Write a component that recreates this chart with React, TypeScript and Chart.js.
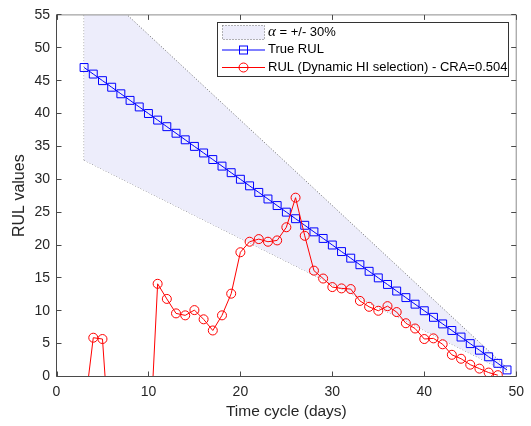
import React, { useEffect, useRef } from "react";
import { Chart, registerables } from "chart.js";

Chart.register(...registerables);

// ---- Data ----
const trueCycles = [3, 4, 5, 6, 7, 8, 9, 10, 11, 12, 13, 14, 15, 16, 17, 18, 19, 20, 21, 22, 23, 24, 25, 26, 27, 28, 29, 30, 31, 32, 33, 34, 35, 36, 37, 38, 39, 40, 41, 42, 43, 44, 45, 46, 47, 48, 49];
const trueRUL = [47, 46, 45, 44, 43, 42, 41, 40, 39, 38, 37, 36, 35, 34, 33, 32, 31, 30, 29, 28, 27, 26, 25, 24, 23, 22, 21, 20, 19, 18, 17, 16, 15, 14, 13, 12, 11, 10, 9, 8, 7, 6, 5, 4, 3, 2, 1];
const alphaBound = 0.3;

const predCycles = [3, 4, 5, 6, 7, 8, 9, 10, 11, 12, 13, 14, 15, 16, 17, 18, 19, 20, 21, 22, 23, 24, 25, 26, 27, 28, 29, 30, 31, 32, 33, 34, 35, 36, 37, 38, 39, 40, 41, 42, 43, 44, 45, 46, 47, 48];
const predRUL = [-5.6, 5.9, 5.7, -14.6, -15, -15, -15, -14.2, 14.1, 11.8, 9.6, 9.3, 10.1, 8.7, 7.0, 9.3, 12.6, 18.9, 20.5, 20.9, 20.5, 20.7, 22.7, 27.2, 21.4, 16.1, 14.9, 13.6, 13.4, 13.3, 11.5, 10.6, 10.0, 10.7, 9.8, 8.1, 7.3, 5.7, 5.8, 4.9, 3.3, 2.7, 1.8, 1.2, 0.6, 0.2];

const xTicks = [0, 10, 20, 30, 40, 50];
const yTicks = [0, 5, 10, 15, 20, 25, 30, 35, 40, 45, 50, 55];

const legendLabels = ["α", " = +/- 30%", "True RUL", "RUL (Dynamic HI selection) - CRA=0.504"];
const xTitle = "Time cycle (days)";
const yTitle = "RUL values";

const BLUE = "#0000ff";
const RED = "#ff0000";
const BAND_FILL = "#ededfb";
const BAND_EDGE = "#6a6a6a";
const AXIS = "#262626";

const framePlugin = {
  id: "frame",
  afterDatasetsDraw(chart: any) {
    const { ctx, chartArea, scales } = chart;
    const { left, right, top, bottom } = chartArea;
    const x = scales.x;
    const y = scales.y;
    ctx.save();
    ctx.lineWidth = 1;
    // top/right box (lighter)
    ctx.strokeStyle = "#8c8c8c";
    ctx.beginPath();
    ctx.moveTo(left, top);
    ctx.lineTo(right, top);
    ctx.lineTo(right, bottom);
    ctx.stroke();
    // left/bottom axes
    ctx.strokeStyle = "#4a4a4a";
    ctx.beginPath();
    ctx.moveTo(left, top);
    ctx.lineTo(left, bottom);
    ctx.lineTo(right, bottom);
    ctx.stroke();
    // ticks inward
    const tl = 5;
    ctx.beginPath();
    xTicks.forEach((v) => {
      const px = Math.round(x.getPixelForValue(v)) + 0.5;
      ctx.moveTo(px, bottom);
      ctx.lineTo(px, bottom - tl);
      ctx.moveTo(px, top);
      ctx.lineTo(px, top + tl);
    });
    yTicks.forEach((v) => {
      const py = Math.round(y.getPixelForValue(v) - 0.5) + 0.5;
      ctx.moveTo(left, py);
      ctx.lineTo(left + tl, py);
      ctx.moveTo(right, py);
      ctx.lineTo(right - tl, py);
    });
    ctx.stroke();
    ctx.restore();
  },
};

const legendPlugin = {
  id: "customLegend",
  afterDraw(chart: any) {
    const { ctx } = chart;
    ctx.save();
    const bx = 217.5, by = 22.5, bw = 291, bh = 54;
    ctx.fillStyle = "#ffffff";
    ctx.fillRect(bx, by, bw, bh);
    ctx.strokeStyle = "#333333";
    ctx.lineWidth = 1;
    ctx.strokeRect(bx, by, bw, bh);

    const sx0 = 222, sx1 = 265, smid = 243.5;
    const rows = [32, 49.5, 67];
    // row 1: patch
    ctx.fillStyle = BAND_FILL;
    ctx.fillRect(222.5, 25.5, 42, 14);
    ctx.strokeStyle = BAND_EDGE;
    ctx.setLineDash([1, 2]);
    ctx.strokeRect(222.5, 25.5, 42, 14);
    ctx.setLineDash([]);
    // row 2: blue line + square
    ctx.strokeStyle = BLUE;
    ctx.beginPath();
    ctx.moveTo(sx0, rows[1] + 0.5);
    ctx.lineTo(sx1, rows[1] + 0.5);
    ctx.stroke();
    ctx.strokeRect(smid - 4, rows[1] - 3.5, 8, 8);
    // row 3: red line + circle
    ctx.strokeStyle = RED;
    ctx.beginPath();
    ctx.moveTo(sx0, rows[2] + 0.5);
    ctx.lineTo(sx1, rows[2] + 0.5);
    ctx.stroke();
    ctx.beginPath();
    ctx.arc(smid, rows[2] + 0.5, 4.5, 0, Math.PI * 2);
    ctx.stroke();

    // texts
    ctx.fillStyle = "#000000";
    ctx.textBaseline = "middle";
    ctx.textAlign = "left";
    const tx = 268;
    ctx.font = "italic 15px 'Liberation Serif'";
    ctx.fillText(legendLabels[0], tx, rows[0]);
    const aw = ctx.measureText(legendLabels[0]).width;
    ctx.font = "13px 'Liberation Sans'";
    ctx.fillText(legendLabels[1], tx + aw, rows[0]);
    ctx.fillText(legendLabels[2], tx, rows[1]);
    ctx.fillText(legendLabels[3], tx, rows[2]);
    ctx.restore();
  },
};

export default function App() {
  const canvasRef = useRef<HTMLCanvasElement | null>(null);

  useEffect(() => {
    const canvas = canvasRef.current;
    if (!canvas) return;

    const upper = trueCycles.map((c, i) => ({ x: c, y: trueRUL[i] * (1 + alphaBound) }));
    const lower = trueCycles.map((c, i) => ({ x: c, y: trueRUL[i] * (1 - alphaBound) }));
    const leftEdge = [lower[0], upper[0]];
    const truePts = trueCycles.map((c, i) => ({ x: c, y: trueRUL[i] }));
    const predPts = predCycles.map((c, i) => ({ x: c, y: predRUL[i] }));

    const chart = new Chart(canvas, {
      type: "line",
      data: {
        datasets: [
          {
            label: "upper",
            data: upper,
            borderColor: BAND_EDGE,
            borderWidth: 1,
            borderDash: [1, 2],
            pointRadius: 0,
            fill: "+1",
            backgroundColor: BAND_FILL,
            order: 3,
          },
          {
            label: "lower",
            data: lower,
            borderColor: BAND_EDGE,
            borderWidth: 1,
            borderDash: [1, 2],
            pointRadius: 0,
            fill: false,
            order: 3,
          },
          {
            label: "edge",
            data: leftEdge,
            borderColor: BAND_EDGE,
            borderWidth: 1,
            borderDash: [1, 2],
            pointRadius: 0,
            fill: false,
            order: 3,
          },
          {
            label: "True RUL",
            data: truePts,
            borderColor: BLUE,
            borderWidth: 1,
            pointStyle: "rect",
            pointRadius: 5.6,
            pointBorderWidth: 1,
            pointBorderColor: BLUE,
            pointBackgroundColor: "rgba(0,0,0,0)",
            fill: false,
            order: 2,
          },
          {
            label: "RUL (Dynamic HI selection) - CRA=0.504",
            data: predPts,
            borderColor: RED,
            borderWidth: 1,
            pointStyle: "circle",
            pointRadius: 4.5,
            pointBorderWidth: 1,
            pointBorderColor: RED,
            pointBackgroundColor: "rgba(0,0,0,0)",
            fill: false,
            order: 1,
          },
        ],
      },
      options: {
        animation: false,
        responsive: false,
        maintainAspectRatio: false,
        events: [],
        layout: { padding: { left: 0, top: 11.5, right: 11.5, bottom: 0 } },
        plugins: {
          legend: { display: false },
          tooltip: { enabled: false },
        },
        scales: {
          x: {
            type: "linear",
            min: 0,
            max: 50,
            afterBuildTicks: (s: any) => {
              s.ticks = xTicks.map((v) => ({ value: v }));
            },
            afterFit: (s: any) => {
              s.height = 49.5;
            },
            grid: { display: false, drawTicks: false },
            border: { display: false },
            ticks: {
              padding: 7,
              color: AXIS,
              font: { family: "'Liberation Sans'", size: 14 },
              maxRotation: 0,
            },
            title: {
              display: true,
              text: xTitle,
              color: AXIS,
              font: { family: "'Liberation Sans'", size: 15.5 },
              padding: { top: 0, bottom: 5 },
            },
          },
          y: {
            type: "linear",
            min: 0,
            max: 55,
            afterBuildTicks: (s: any) => {
              s.ticks = yTicks.map((v) => ({ value: v }));
            },
            afterFit: (s: any) => {
              s.width = 56.5;
            },
            grid: { display: false, drawTicks: false },
            border: { display: false },
            ticks: {
              padding: 6.5,
              color: AXIS,
              font: { family: "'Liberation Sans'", size: 14 },
            },
            title: {
              display: true,
              text: yTitle,
              color: AXIS,
              font: { family: "'Liberation Sans'", size: 16 },
              padding: { top: 9.5, bottom: 0 },
            },
          },
        },
      },
      plugins: [framePlugin, legendPlugin],
    });

    return () => {
      chart.destroy();
    };
  }, []);

  return (
    <div style={{ position: "absolute", left: 0, top: 0, width: 531, height: 426, background: "#ffffff" }}>
      <canvas ref={canvasRef} width={531} height={426} style={{ display: "block" }} />
    </div>
  );
}
